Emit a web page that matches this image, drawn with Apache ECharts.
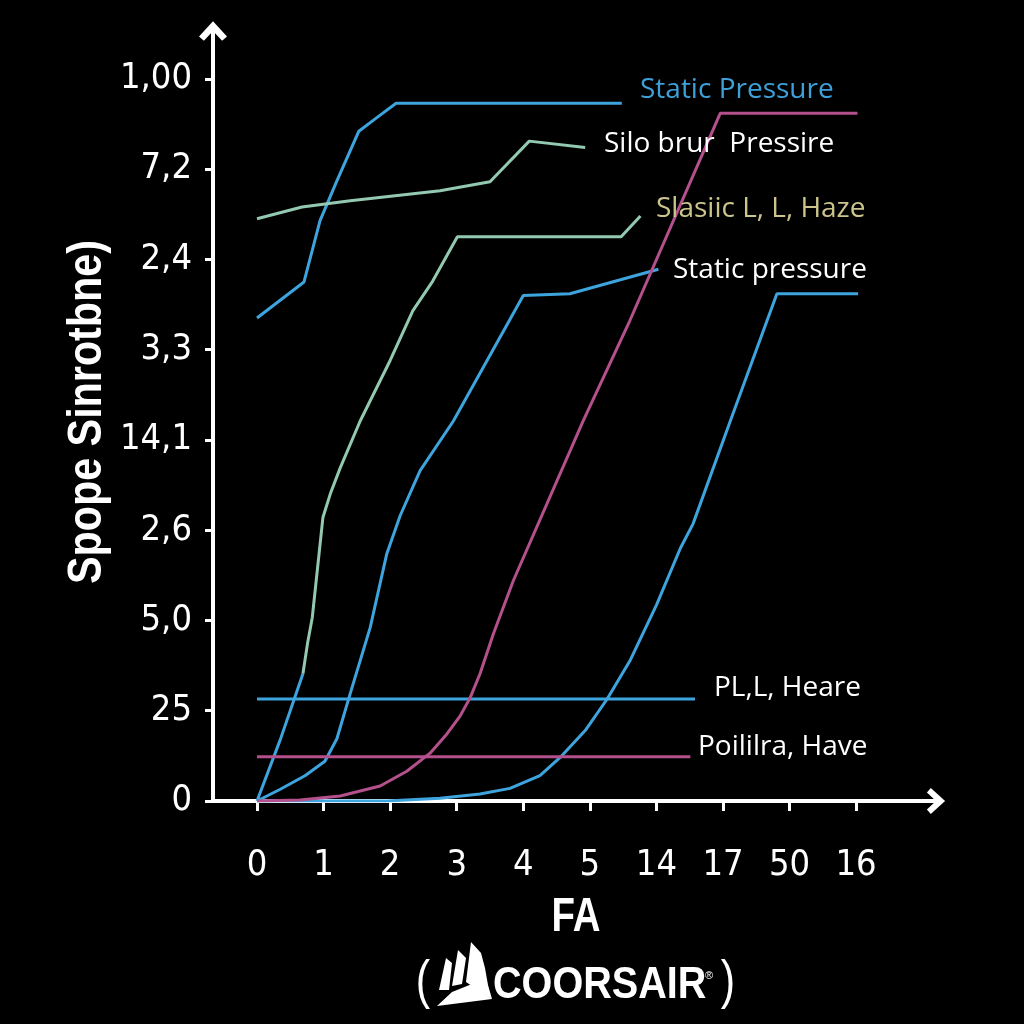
<!DOCTYPE html>
<html><head><meta charset="utf-8">
<script src="https://cdn.jsdelivr.net/npm/echarts@6/dist/echarts.min.js"></script>
<style>html,body{margin:0;padding:0;background:#000}#c{width:1024px;height:1024px}</style>
</head><body><div id="c"></div>
<script>
// tick labels (positions are index-based along each axis)
const xTickLabels = ['0','1','2','3','4','5','14','17','50','16'];
const yTickLabels = ['0','25','5,0','2,6','14,1','3,3','2,4','7,2','1,00'];

// series values, [x index, y index]
const topBlue = [[0,5.35],[0.706,5.75],[0.947,6.43],[1.20,6.87],[1.53,7.42],[1.80,7.57],[2.09,7.73],[5.48,7.73]];
const siloGreen = [[0,6.45],[0.676,6.58],[1.40,6.65],[2.75,6.76],[3.50,6.86],[4.09,7.31],[4.93,7.24]];
const leadBlue = [[0,0],[0.35,0.68],[0.69,1.41]];
const hazeGreen = [[0.69,1.41],[0.76,1.75],[0.83,2.03],[0.99,3.14],[1.10,3.40],[1.25,3.69],[1.55,4.21],[2.00,4.88],[2.34,5.43],[2.64,5.76],[3.01,6.25],[5.47,6.25],[5.76,6.48]];
const midBlue = [[0,0],[0.35,0.13],[0.72,0.28],[1.02,0.44],[1.20,0.69],[1.40,1.19],[1.70,1.92],[1.95,2.74],[2.15,3.16],[2.45,3.66],[2.95,4.21],[4.00,5.60],[4.70,5.62],[6.03,5.89]];
const magenta = [[0,0],[0.646,0.011],[1.25,0.055],[1.85,0.166],[2.25,0.33],[2.60,0.53],[2.85,0.74],[3.05,0.94],[3.20,1.14],[3.35,1.41],[3.55,1.85],[3.85,2.44],[4.90,4.21],[5.60,5.32],[6.96,7.62],[9.02,7.62]];
const rightBlue = [[0,0],[1.95,0],[2.75,0.03],[3.35,0.078],[3.80,0.14],[4.25,0.28],[4.55,0.48],[4.93,0.78],[5.26,1.13],[5.60,1.55],[6.00,2.17],[6.36,2.80],[6.55,3.07],[7.11,4.21],[7.81,5.62],[9.03,5.62]];
const blueFlat = [[0,1.13],[6.58,1.13]];
const magentaFlat = [[0,0.49],[6.51,0.49]];

const BLUE = '#3ea4dd', GREEN = '#93c9b0', PINK = '#b4508b';
const LABELF = "'Open Sans','Noto Sans',sans-serif";
const BOLDF = "bold 48px 'Liberation Sans',sans-serif";
const ARROW = 'path://M10,0 L20,11 L16.5,14 L10,7 L3.5,14 L0,11 Z';

function line(name, data, color, z) {
  return { name, type: 'line', data, showSymbol: false, symbol: 'none', smooth: false, z: z || 2,
    lineStyle: { color, width: 3 }, emphasis: { disabled: true } };
}
const tickFont = { color: '#fff', fontSize: 36, fontFamily: "'DejaVu Sans'", fontWeight: 'condensed' };

const chart = echarts.init(document.getElementById('c'), null, { renderer: 'canvas' });
chart.setOption({
  backgroundColor: '#000',
  animation: false,
  grid: { left: 213, right: 88, top: 31, bottom: 223, containLabel: false },
  xAxis: {
    type: 'value', min: -0.661, max: 10.2,
    splitLine: { show: false },
    axisLine: { show: true, onZero: false, lineStyle: { color: '#fff', width: 4 }, symbol: ['none', ARROW], symbolSize: [26, 24] },
    axisTick: { show: true, inside: false, length: 10, lineStyle: { color: '#fff', width: 3 }, customValues: [0,1,2,3,4,5,6,7,8,9] },
    axisLabel: Object.assign({ customValues: [0,1,2,3,4,5,6,7,8,9], formatter: v => xTickLabels[Math.round(v)], margin: 47 }, tickFont)
  },
  yAxis: {
    type: 'value', min: 0, max: 8.53,
    splitLine: { show: false },
    axisLine: { show: true, onZero: false, lineStyle: { color: '#fff', width: 4 }, symbol: ['none', ARROW], symbolSize: [28, 24] },
    axisTick: { show: true, inside: false, length: 8, lineStyle: { color: '#fff', width: 3 }, customValues: [0,1,2,3,4,5,6,7,8] },
    axisLabel: Object.assign({ customValues: [0,1,2,3,4,5,6,7,8], formatter: v => yTickLabels[Math.round(v)], margin: 21 }, tickFont)
  },
  series: [
    line('Static Pressure', topBlue, BLUE),
    line('Silo brur Pressire', siloGreen, GREEN),
    line('lead', leadBlue, BLUE),
    line('Slasiic L, L, Haze', hazeGreen, GREEN),
    line('Static pressure', midBlue, BLUE),
    line('magenta', magenta, PINK, 3),
    line('right', rightBlue, BLUE),
    line('PL,L, Heare', blueFlat, BLUE),
    line('Poililra, Have', magentaFlat, PINK)
  ],
  graphic: [
    { type: 'text', x: 640, y: 90, z: 10, style: { text: 'Static Pressure', fill: '#3ea0d8', font: '28px ' + LABELF, verticalAlign: 'middle' } },
    { type: 'text', x: 604, y: 144, z: 10, style: { text: 'Silo brur  Pressire', fill: '#fff', font: '28px ' + LABELF, verticalAlign: 'middle' } },
    { type: 'text', x: 656, y: 209, z: 10, style: { text: 'Slasiic L, L, Haze', fill: '#cbc58c', font: '28px ' + LABELF, verticalAlign: 'middle' } },
    { type: 'text', x: 673, y: 270, z: 10, style: { text: 'Static pressure', fill: '#fff', font: '28px ' + LABELF, verticalAlign: 'middle' } },
    { type: 'text', x: 714, y: 688, z: 10, style: { text: 'PL,L, Heare', fill: '#fff', font: '28px ' + LABELF, verticalAlign: 'middle' } },
    { type: 'text', x: 698, y: 747, z: 10, style: { text: 'Poililra, Have', fill: '#fff', font: '28px ' + LABELF, verticalAlign: 'middle' } },
    { type: 'text', x: 88, y: 412, rotation: Math.PI / 2, scaleX: 0.86, z: 10,
      style: { text: 'Spope Sinrotbne)', fill: '#fff', font: BOLDF, align: 'center', verticalAlign: 'middle' } },
    { type: 'text', x: 576, y: 918, scaleX: 0.8, z: 10, style: { text: 'FA', fill: '#fff', font: "bold 48px 'Liberation Sans',sans-serif", align: 'center', verticalAlign: 'middle' } },
    { type: 'text', x: 423, y: 983, scaleX: 0.8, z: 10, style: { text: '(', fill: '#fff', font: "54px 'Liberation Sans',sans-serif", align: 'center', verticalAlign: 'middle' } },
    { type: 'text', x: 728, y: 983, scaleX: 0.8, z: 10, style: { text: ')', fill: '#fff', font: "54px 'Liberation Sans',sans-serif", align: 'center', verticalAlign: 'middle' } },
    { type: 'text', x: 493, y: 986, scaleX: 0.9, z: 10, style: { text: 'COORSAIR', fill: '#fff', font: "bold 44px 'Liberation Sans',sans-serif", align: 'left', verticalAlign: 'middle' } },
    { type: 'text', x: 705, y: 976, z: 10, style: { text: '®', fill: '#fff', font: '11px sans-serif', align: 'left', verticalAlign: 'middle' } },
    { type: 'polygon', z: 10, shape: { points: [[437,1006],[492,999],[472,984],[452,992]] }, style: { fill: '#fff' } },
    { type: 'polygon', z: 10, shape: { points: [[439,990],[446,958],[452,963],[449,990]] }, style: { fill: '#fff' } },
    { type: 'polygon', z: 10, shape: { points: [[452,986],[458,950],[466,958],[462,984]] }, style: { fill: '#fff' } },
    { type: 'polygon', z: 10, shape: { points: [[466,982],[471,942],[481,953],[485,968],[488,985],[492,999],[472,986]] }, style: { fill: '#fff' } }
  ]
});
</script></body></html>
